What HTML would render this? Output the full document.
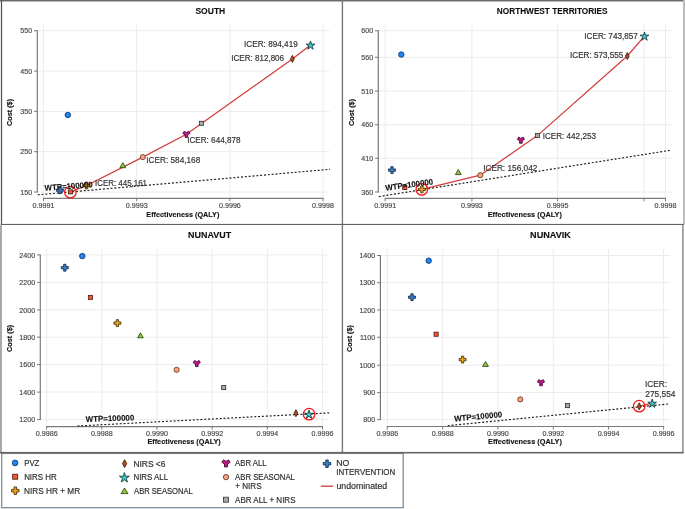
<!DOCTYPE html>
<html><head><meta charset="utf-8"><title>Cost-effectiveness planes</title>
<style>html,body{margin:0;padding:0;background:#fff;width:685px;height:509px;overflow:hidden;font-family:"Liberation Sans",sans-serif;}svg{display:block} text{filter:grayscale(1)} text.r{stroke:currentColor;stroke-width:0.18px} text.b{stroke:currentColor;stroke-width:0.12px}</style>
</head><body>
<svg width="685" height="509" viewBox="0 0 685 509" font-family='"Liberation Sans", sans-serif'>
<rect width="685" height="509" fill="#fff"/>
<line x1="43.5" y1="24.2" x2="43.5" y2="197.5" stroke="#ececec" stroke-width="1"/>
<line x1="136.7" y1="24.2" x2="136.7" y2="197.5" stroke="#ececec" stroke-width="1"/>
<line x1="229.9" y1="24.2" x2="229.9" y2="197.5" stroke="#ececec" stroke-width="1"/>
<line x1="323" y1="24.2" x2="323" y2="197.5" stroke="#ececec" stroke-width="1"/>
<line x1="37.3" y1="30.7" x2="329.6" y2="30.7" stroke="#ececec" stroke-width="1"/>
<line x1="37.3" y1="71.1" x2="329.6" y2="71.1" stroke="#ececec" stroke-width="1"/>
<line x1="37.3" y1="111.4" x2="329.6" y2="111.4" stroke="#ececec" stroke-width="1"/>
<line x1="37.3" y1="151.7" x2="329.6" y2="151.7" stroke="#ececec" stroke-width="1"/>
<line x1="37.3" y1="192" x2="329.6" y2="192" stroke="#ececec" stroke-width="1"/>
<line x1="37.3" y1="30.2" x2="37.3" y2="192.5" stroke="#7a7a7a" stroke-width="1.2"/>
<line x1="34" y1="30.7" x2="37.3" y2="30.7" stroke="#7a7a7a" stroke-width="1"/>
<text class="r" color="#4a4a4a" x="20.26" y="33.35" font-size="7.6" font-weight="normal" fill="#4a4a4a" textLength="11.92" lengthAdjust="spacingAndGlyphs">550</text>
<line x1="34" y1="71.1" x2="37.3" y2="71.1" stroke="#7a7a7a" stroke-width="1"/>
<text class="r" color="#4a4a4a" x="20.26" y="73.75" font-size="7.6" font-weight="normal" fill="#4a4a4a" textLength="11.92" lengthAdjust="spacingAndGlyphs">450</text>
<line x1="34" y1="111.4" x2="37.3" y2="111.4" stroke="#7a7a7a" stroke-width="1"/>
<text class="r" color="#4a4a4a" x="20.26" y="114.05" font-size="7.6" font-weight="normal" fill="#4a4a4a" textLength="11.92" lengthAdjust="spacingAndGlyphs">350</text>
<line x1="34" y1="151.7" x2="37.3" y2="151.7" stroke="#7a7a7a" stroke-width="1"/>
<text class="r" color="#4a4a4a" x="20.26" y="154.35" font-size="7.6" font-weight="normal" fill="#4a4a4a" textLength="11.92" lengthAdjust="spacingAndGlyphs">250</text>
<line x1="34" y1="192" x2="37.3" y2="192" stroke="#7a7a7a" stroke-width="1"/>
<text class="r" color="#4a4a4a" x="20.26" y="194.65" font-size="7.6" font-weight="normal" fill="#4a4a4a" textLength="11.92" lengthAdjust="spacingAndGlyphs">150</text>
<line x1="43" y1="198.3" x2="323.5" y2="198.3" stroke="#7a7a7a" stroke-width="1.2"/>
<line x1="43.5" y1="198.3" x2="43.5" y2="201.3" stroke="#7a7a7a" stroke-width="1"/>
<text class="r" color="#4a4a4a" x="32.61" y="208.2" font-size="7.6" font-weight="normal" fill="#4a4a4a" textLength="21.85" lengthAdjust="spacingAndGlyphs">0.9991</text>
<line x1="136.7" y1="198.3" x2="136.7" y2="201.3" stroke="#7a7a7a" stroke-width="1"/>
<text class="r" color="#4a4a4a" x="125.79" y="208.2" font-size="7.6" font-weight="normal" fill="#4a4a4a" textLength="21.85" lengthAdjust="spacingAndGlyphs">0.9993</text>
<line x1="229.9" y1="198.3" x2="229.9" y2="201.3" stroke="#7a7a7a" stroke-width="1"/>
<text class="r" color="#4a4a4a" x="218.99" y="208.2" font-size="7.6" font-weight="normal" fill="#4a4a4a" textLength="21.85" lengthAdjust="spacingAndGlyphs">0.9996</text>
<line x1="323" y1="198.3" x2="323" y2="201.3" stroke="#7a7a7a" stroke-width="1"/>
<text class="r" color="#4a4a4a" x="312.09" y="208.2" font-size="7.6" font-weight="normal" fill="#4a4a4a" textLength="21.85" lengthAdjust="spacingAndGlyphs">0.9998</text>
<text class="b" color="#111" x="195.44" y="14.2" font-size="8.6" font-weight="bold" fill="#111" textLength="29.83" lengthAdjust="spacingAndGlyphs">SOUTH</text>
<text class="b" color="#111" x="146.31" y="216.8" font-size="7.6" font-weight="bold" fill="#111" textLength="73.05" lengthAdjust="spacingAndGlyphs">Effectiveness (QALY)</text>
<text class="b" color="#111" x="-126.09" y="12.3" transform="rotate(-90)" font-size="7.6" font-weight="bold" fill="#111" textLength="27.15" lengthAdjust="spacingAndGlyphs">Cost ($)</text>
<line x1="37.7" y1="194.8" x2="330" y2="169.3" stroke="#1a1a1a" stroke-width="1.15" stroke-dasharray="2,1.85"/>
<path d="M70.4,192 L86.6,185.5 L142.8,157.1 L186.4,134.3 L292.4,58.9 L310.5,45.1" fill="none" stroke="#d33c3c" stroke-width="1.25" stroke-linejoin="round"/>
<circle cx="67.8" cy="115" r="2.75" fill="#1f87f3" stroke="#0f2f60" stroke-width="0.8"/>
<path d="M56.45,189.05 L58.75,189.05 L58.75,186.75 L61.05,186.75 L61.05,189.05 L63.35,189.05 L63.35,191.35 L61.05,191.35 L61.05,193.65 L58.75,193.65 L58.75,191.35 L56.45,191.35Z" fill="#3a7dc8" stroke="#0c1f3c" stroke-width="0.8"/>
<rect x="68.35" y="189.85" width="4.1" height="4.1" fill="#f2563b" stroke="#4a1408" stroke-width="0.8"/>
<path d="M83.15,184.35 L85.45,184.35 L85.45,182.05 L87.75,182.05 L87.75,184.35 L90.05,184.35 L90.05,186.65 L87.75,186.65 L87.75,188.95 L85.45,188.95 L85.45,186.65 L83.15,186.65Z" fill="#e8a417" stroke="#3a2600" stroke-width="0.8"/>
<path d="M122.8,162.7 L125.7,167.7 L119.9,167.7Z" fill="#8cc838" stroke="#223a05" stroke-width="0.8"/>
<circle cx="142.8" cy="157.1" r="2.6" fill="#f9a17a" stroke="#5a3020" stroke-width="0.8"/>
<path d="M187.7,134.78 L187.7,137.38 L185.1,137.38 L185.1,134.78 L182.85,133.48 L184.15,131.22 L186.4,132.52 L188.65,131.22 L189.95,133.48Z" fill="#c2188e" stroke="#360022" stroke-width="0.8"/>
<rect x="199.35" y="121.25" width="4.1" height="4.1" fill="#a9a9a9" stroke="#2e2e2e" stroke-width="0.8"/>
<path d="M292.4,55.4 L294.3,58.9 L292.4,62.4 L290.5,58.9Z" fill="#b4521c" stroke="#2e1000" stroke-width="0.8"/>
<path d="M310.5,40.94 L311.53,44.12 L314.87,44.12 L312.17,46.08 L313.2,49.26 L310.5,47.3 L307.8,49.26 L308.83,46.08 L306.13,44.12 L309.47,44.12Z" fill="#3bc5c8" stroke="#102a2b" stroke-width="0.8"/>
<circle cx="70.35" cy="192.2" r="5.75" fill="none" stroke="#ee1a1a" stroke-width="1.3"/>
<text class="r" color="#333" x="95.07" y="185.5" font-size="8.6" font-weight="normal" fill="#333" textLength="51.93" lengthAdjust="spacingAndGlyphs">ICER: 445,161</text>
<text class="r" color="#333" x="146.24" y="163.3" font-size="8.6" font-weight="normal" fill="#333" textLength="54.03" lengthAdjust="spacingAndGlyphs">ICER: 584,168</text>
<text class="r" color="#333" x="187.15" y="143.4" font-size="8.6" font-weight="normal" fill="#333" textLength="53.42" lengthAdjust="spacingAndGlyphs">ICER: 644,878</text>
<text class="r" color="#333" x="231.26" y="60.9" font-size="8.6" font-weight="normal" fill="#333" textLength="52.81" lengthAdjust="spacingAndGlyphs">ICER: 812,806</text>
<text class="r" color="#333" x="244.04" y="47" font-size="8.6" font-weight="normal" fill="#333" textLength="53.75" lengthAdjust="spacingAndGlyphs">ICER: 894,419</text>
<text class="b" color="#111" x="-0.02" y="0" transform="translate(44.8,190.7) rotate(-4.2)" font-size="8.1" font-weight="bold" fill="#111" textLength="48.16" lengthAdjust="spacingAndGlyphs">WTP=100000</text>
<line x1="385.2" y1="24.2" x2="385.2" y2="197.5" stroke="#ececec" stroke-width="1"/>
<line x1="471.9" y1="24.2" x2="471.9" y2="197.5" stroke="#ececec" stroke-width="1"/>
<line x1="557.6" y1="24.2" x2="557.6" y2="197.5" stroke="#ececec" stroke-width="1"/>
<line x1="644.1" y1="24.2" x2="644.1" y2="197.5" stroke="#ececec" stroke-width="1"/>
<line x1="665.5" y1="24.2" x2="665.5" y2="197.5" stroke="#ececec" stroke-width="1"/>
<line x1="378.3" y1="30.7" x2="672" y2="30.7" stroke="#ececec" stroke-width="1"/>
<line x1="378.3" y1="57.3" x2="672" y2="57.3" stroke="#ececec" stroke-width="1"/>
<line x1="378.3" y1="91.1" x2="672" y2="91.1" stroke="#ececec" stroke-width="1"/>
<line x1="378.3" y1="124.8" x2="672" y2="124.8" stroke="#ececec" stroke-width="1"/>
<line x1="378.3" y1="158.3" x2="672" y2="158.3" stroke="#ececec" stroke-width="1"/>
<line x1="378.3" y1="192" x2="672" y2="192" stroke="#ececec" stroke-width="1"/>
<line x1="378.3" y1="30.2" x2="378.3" y2="192.5" stroke="#7a7a7a" stroke-width="1.2"/>
<line x1="375" y1="30.7" x2="378.3" y2="30.7" stroke="#7a7a7a" stroke-width="1"/>
<text class="r" color="#4a4a4a" x="361.26" y="33.35" font-size="7.6" font-weight="normal" fill="#4a4a4a" textLength="11.92" lengthAdjust="spacingAndGlyphs">600</text>
<line x1="375" y1="57.3" x2="378.3" y2="57.3" stroke="#7a7a7a" stroke-width="1"/>
<text class="r" color="#4a4a4a" x="361.26" y="59.95" font-size="7.6" font-weight="normal" fill="#4a4a4a" textLength="11.92" lengthAdjust="spacingAndGlyphs">560</text>
<line x1="375" y1="91.1" x2="378.3" y2="91.1" stroke="#7a7a7a" stroke-width="1"/>
<text class="r" color="#4a4a4a" x="361.26" y="93.75" font-size="7.6" font-weight="normal" fill="#4a4a4a" textLength="11.92" lengthAdjust="spacingAndGlyphs">510</text>
<line x1="375" y1="124.8" x2="378.3" y2="124.8" stroke="#7a7a7a" stroke-width="1"/>
<text class="r" color="#4a4a4a" x="361.26" y="127.45" font-size="7.6" font-weight="normal" fill="#4a4a4a" textLength="11.92" lengthAdjust="spacingAndGlyphs">460</text>
<line x1="375" y1="158.3" x2="378.3" y2="158.3" stroke="#7a7a7a" stroke-width="1"/>
<text class="r" color="#4a4a4a" x="361.26" y="160.95" font-size="7.6" font-weight="normal" fill="#4a4a4a" textLength="11.92" lengthAdjust="spacingAndGlyphs">410</text>
<line x1="375" y1="192" x2="378.3" y2="192" stroke="#7a7a7a" stroke-width="1"/>
<text class="r" color="#4a4a4a" x="361.26" y="194.65" font-size="7.6" font-weight="normal" fill="#4a4a4a" textLength="11.92" lengthAdjust="spacingAndGlyphs">360</text>
<line x1="384.7" y1="198.3" x2="666" y2="198.3" stroke="#7a7a7a" stroke-width="1.2"/>
<line x1="385.2" y1="198.3" x2="385.2" y2="201.3" stroke="#7a7a7a" stroke-width="1"/>
<text class="r" color="#4a4a4a" x="374.31" y="208.2" font-size="7.6" font-weight="normal" fill="#4a4a4a" textLength="21.85" lengthAdjust="spacingAndGlyphs">0.9991</text>
<line x1="471.9" y1="198.3" x2="471.9" y2="201.3" stroke="#7a7a7a" stroke-width="1"/>
<text class="r" color="#4a4a4a" x="460.99" y="208.2" font-size="7.6" font-weight="normal" fill="#4a4a4a" textLength="21.85" lengthAdjust="spacingAndGlyphs">0.9993</text>
<line x1="557.6" y1="198.3" x2="557.6" y2="201.3" stroke="#7a7a7a" stroke-width="1"/>
<text class="r" color="#4a4a4a" x="546.68" y="208.2" font-size="7.6" font-weight="normal" fill="#4a4a4a" textLength="21.85" lengthAdjust="spacingAndGlyphs">0.9995</text>
<line x1="644.1" y1="198.3" x2="644.1" y2="201.3" stroke="#7a7a7a" stroke-width="1"/>
<line x1="665.5" y1="198.3" x2="665.5" y2="201.3" stroke="#7a7a7a" stroke-width="1"/>
<text class="r" color="#4a4a4a" x="654.59" y="208.2" font-size="7.6" font-weight="normal" fill="#4a4a4a" textLength="21.85" lengthAdjust="spacingAndGlyphs">0.9998</text>
<text class="b" color="#111" x="496.84" y="14.2" font-size="8.6" font-weight="bold" fill="#111" textLength="110.58" lengthAdjust="spacingAndGlyphs">NORTHWEST TERRITORIES</text>
<text class="b" color="#111" x="487.7" y="216.7" font-size="7.6" font-weight="bold" fill="#111" textLength="74.27" lengthAdjust="spacingAndGlyphs">Effectiveness (QALY)</text>
<text class="b" color="#111" x="-126.09" y="353.8" transform="rotate(-90)" font-size="7.6" font-weight="bold" fill="#111" textLength="27.15" lengthAdjust="spacingAndGlyphs">Cost ($)</text>
<line x1="378.8" y1="196.6" x2="670.9" y2="150.2" stroke="#1a1a1a" stroke-width="1.15" stroke-dasharray="2,1.85"/>
<path d="M421.9,189.4 L480.3,175.2 L537.4,135.6 L627.3,56 L644.5,36.1" fill="none" stroke="#d33c3c" stroke-width="1.25" stroke-linejoin="round"/>
<circle cx="401.3" cy="54.6" r="2.75" fill="#1f87f3" stroke="#0f2f60" stroke-width="0.8"/>
<path d="M388.55,168.95 L390.85,168.95 L390.85,166.65 L393.15,166.65 L393.15,168.95 L395.45,168.95 L395.45,171.25 L393.15,171.25 L393.15,173.55 L390.85,173.55 L390.85,171.25 L388.55,171.25Z" fill="#3a7dc8" stroke="#0c1f3c" stroke-width="0.8"/>
<rect x="402.75" y="185.55" width="4.1" height="4.1" fill="#f2563b" stroke="#4a1408" stroke-width="0.8"/>
<path d="M418.45,188.25 L420.75,188.25 L420.75,185.95 L423.05,185.95 L423.05,188.25 L425.35,188.25 L425.35,190.55 L423.05,190.55 L423.05,192.85 L420.75,192.85 L420.75,190.55 L418.45,190.55Z" fill="#e8a417" stroke="#3a2600" stroke-width="0.8"/>
<path d="M458.3,169.6 L461.2,174.6 L455.4,174.6Z" fill="#8cc838" stroke="#223a05" stroke-width="0.8"/>
<circle cx="480.3" cy="175.2" r="2.6" fill="#f9a17a" stroke="#5a3020" stroke-width="0.8"/>
<path d="M522.2,140.68 L522.2,143.28 L519.6,143.28 L519.6,140.68 L517.35,139.38 L518.65,137.12 L520.9,138.42 L523.15,137.12 L524.45,139.38Z" fill="#c2188e" stroke="#360022" stroke-width="0.8"/>
<rect x="535.35" y="133.55" width="4.1" height="4.1" fill="#a9a9a9" stroke="#2e2e2e" stroke-width="0.8"/>
<path d="M627.3,52.5 L629.2,56 L627.3,59.5 L625.4,56Z" fill="#b4521c" stroke="#2e1000" stroke-width="0.8"/>
<path d="M644.5,31.94 L645.53,35.12 L648.87,35.12 L646.17,37.08 L647.2,40.26 L644.5,38.3 L641.8,40.26 L642.83,37.08 L640.13,35.12 L643.47,35.12Z" fill="#3bc5c8" stroke="#102a2b" stroke-width="0.8"/>
<circle cx="421.8" cy="189.4" r="5.75" fill="none" stroke="#ee1a1a" stroke-width="1.3"/>
<text class="r" color="#333" x="483.14" y="171.4" font-size="8.6" font-weight="normal" fill="#333" textLength="54.2" lengthAdjust="spacingAndGlyphs">ICER: 156,042</text>
<text class="r" color="#333" x="542.65" y="138.7" font-size="8.6" font-weight="normal" fill="#333" textLength="53.32" lengthAdjust="spacingAndGlyphs">ICER: 442,253</text>
<text class="r" color="#333" x="570.05" y="57.8" font-size="8.6" font-weight="normal" fill="#333" textLength="53.09" lengthAdjust="spacingAndGlyphs">ICER: 573,555</text>
<text class="r" color="#333" x="584.35" y="38.7" font-size="8.6" font-weight="normal" fill="#333" textLength="53.48" lengthAdjust="spacingAndGlyphs">ICER: 743,857</text>
<text class="b" color="#111" x="-0.02" y="0" transform="translate(385.8,190.7) rotate(-7.6)" font-size="8.1" font-weight="bold" fill="#111" textLength="47.95" lengthAdjust="spacingAndGlyphs">WTP=100000</text>
<line x1="46.7" y1="248.8" x2="46.7" y2="425.8" stroke="#ececec" stroke-width="1"/>
<line x1="101.8" y1="248.8" x2="101.8" y2="425.8" stroke="#ececec" stroke-width="1"/>
<line x1="157" y1="248.8" x2="157" y2="425.8" stroke="#ececec" stroke-width="1"/>
<line x1="212.2" y1="248.8" x2="212.2" y2="425.8" stroke="#ececec" stroke-width="1"/>
<line x1="267.4" y1="248.8" x2="267.4" y2="425.8" stroke="#ececec" stroke-width="1"/>
<line x1="322.5" y1="248.8" x2="322.5" y2="425.8" stroke="#ececec" stroke-width="1"/>
<line x1="40.3" y1="254.9" x2="328.6" y2="254.9" stroke="#ececec" stroke-width="1"/>
<line x1="40.3" y1="282.4" x2="328.6" y2="282.4" stroke="#ececec" stroke-width="1"/>
<line x1="40.3" y1="309.9" x2="328.6" y2="309.9" stroke="#ececec" stroke-width="1"/>
<line x1="40.3" y1="337.2" x2="328.6" y2="337.2" stroke="#ececec" stroke-width="1"/>
<line x1="40.3" y1="364.6" x2="328.6" y2="364.6" stroke="#ececec" stroke-width="1"/>
<line x1="40.3" y1="392.1" x2="328.6" y2="392.1" stroke="#ececec" stroke-width="1"/>
<line x1="40.3" y1="419.6" x2="328.6" y2="419.6" stroke="#ececec" stroke-width="1"/>
<line x1="40.3" y1="254.4" x2="40.3" y2="420.1" stroke="#7a7a7a" stroke-width="1.2"/>
<line x1="37" y1="254.9" x2="40.3" y2="254.9" stroke="#7a7a7a" stroke-width="1"/>
<text class="r" color="#4a4a4a" x="19.29" y="257.55" font-size="7.6" font-weight="normal" fill="#4a4a4a" textLength="15.89" lengthAdjust="spacingAndGlyphs">2400</text>
<line x1="37" y1="282.4" x2="40.3" y2="282.4" stroke="#7a7a7a" stroke-width="1"/>
<text class="r" color="#4a4a4a" x="19.29" y="285.05" font-size="7.6" font-weight="normal" fill="#4a4a4a" textLength="15.89" lengthAdjust="spacingAndGlyphs">2200</text>
<line x1="37" y1="309.9" x2="40.3" y2="309.9" stroke="#7a7a7a" stroke-width="1"/>
<text class="r" color="#4a4a4a" x="19.29" y="312.55" font-size="7.6" font-weight="normal" fill="#4a4a4a" textLength="15.89" lengthAdjust="spacingAndGlyphs">2000</text>
<line x1="37" y1="337.2" x2="40.3" y2="337.2" stroke="#7a7a7a" stroke-width="1"/>
<text class="r" color="#4a4a4a" x="19.29" y="339.85" font-size="7.6" font-weight="normal" fill="#4a4a4a" textLength="15.89" lengthAdjust="spacingAndGlyphs">1800</text>
<line x1="37" y1="364.6" x2="40.3" y2="364.6" stroke="#7a7a7a" stroke-width="1"/>
<text class="r" color="#4a4a4a" x="19.29" y="367.25" font-size="7.6" font-weight="normal" fill="#4a4a4a" textLength="15.89" lengthAdjust="spacingAndGlyphs">1600</text>
<line x1="37" y1="392.1" x2="40.3" y2="392.1" stroke="#7a7a7a" stroke-width="1"/>
<text class="r" color="#4a4a4a" x="19.29" y="394.75" font-size="7.6" font-weight="normal" fill="#4a4a4a" textLength="15.89" lengthAdjust="spacingAndGlyphs">1400</text>
<line x1="37" y1="419.6" x2="40.3" y2="419.6" stroke="#7a7a7a" stroke-width="1"/>
<text class="r" color="#4a4a4a" x="19.29" y="422.25" font-size="7.6" font-weight="normal" fill="#4a4a4a" textLength="15.89" lengthAdjust="spacingAndGlyphs">1200</text>
<line x1="46.2" y1="426.6" x2="323" y2="426.6" stroke="#7a7a7a" stroke-width="1.2"/>
<line x1="46.7" y1="426.6" x2="46.7" y2="429.6" stroke="#7a7a7a" stroke-width="1"/>
<text class="r" color="#4a4a4a" x="35.79" y="435.5" font-size="7.6" font-weight="normal" fill="#4a4a4a" textLength="21.85" lengthAdjust="spacingAndGlyphs">0.9986</text>
<line x1="101.8" y1="426.6" x2="101.8" y2="429.6" stroke="#7a7a7a" stroke-width="1"/>
<text class="r" color="#4a4a4a" x="90.89" y="435.5" font-size="7.6" font-weight="normal" fill="#4a4a4a" textLength="21.85" lengthAdjust="spacingAndGlyphs">0.9988</text>
<line x1="157" y1="426.6" x2="157" y2="429.6" stroke="#7a7a7a" stroke-width="1"/>
<text class="r" color="#4a4a4a" x="146.07" y="435.5" font-size="7.6" font-weight="normal" fill="#4a4a4a" textLength="21.85" lengthAdjust="spacingAndGlyphs">0.9990</text>
<line x1="212.2" y1="426.6" x2="212.2" y2="429.6" stroke="#7a7a7a" stroke-width="1"/>
<text class="r" color="#4a4a4a" x="201.31" y="435.5" font-size="7.6" font-weight="normal" fill="#4a4a4a" textLength="21.85" lengthAdjust="spacingAndGlyphs">0.9992</text>
<line x1="267.4" y1="426.6" x2="267.4" y2="429.6" stroke="#7a7a7a" stroke-width="1"/>
<text class="r" color="#4a4a4a" x="256.43" y="435.5" font-size="7.6" font-weight="normal" fill="#4a4a4a" textLength="21.85" lengthAdjust="spacingAndGlyphs">0.9994</text>
<line x1="322.5" y1="426.6" x2="322.5" y2="429.6" stroke="#7a7a7a" stroke-width="1"/>
<text class="r" color="#4a4a4a" x="311.59" y="435.5" font-size="7.6" font-weight="normal" fill="#4a4a4a" textLength="21.85" lengthAdjust="spacingAndGlyphs">0.9996</text>
<text class="b" color="#111" x="188.1" y="238.1" font-size="8.6" font-weight="bold" fill="#111" textLength="43.01" lengthAdjust="spacingAndGlyphs">NUNAVUT</text>
<text class="b" color="#111" x="147.41" y="444" font-size="7.6" font-weight="bold" fill="#111" textLength="73.36" lengthAdjust="spacingAndGlyphs">Effectiveness (QALY)</text>
<text class="b" color="#111" x="-351.99" y="12.3" transform="rotate(-90)" font-size="7.6" font-weight="bold" fill="#111" textLength="27.15" lengthAdjust="spacingAndGlyphs">Cost ($)</text>
<line x1="77.4" y1="426" x2="329.2" y2="412.9" stroke="#1a1a1a" stroke-width="1.15" stroke-dasharray="2,1.85"/>
<circle cx="82.3" cy="256.1" r="2.75" fill="#1f87f3" stroke="#0f2f60" stroke-width="0.8"/>
<path d="M61.35,266.55 L63.65,266.55 L63.65,264.25 L65.95,264.25 L65.95,266.55 L68.25,266.55 L68.25,268.85 L65.95,268.85 L65.95,271.15 L63.65,271.15 L63.65,268.85 L61.35,268.85Z" fill="#3a7dc8" stroke="#0c1f3c" stroke-width="0.8"/>
<rect x="88.35" y="295.35" width="4.1" height="4.1" fill="#f2563b" stroke="#4a1408" stroke-width="0.8"/>
<path d="M113.95,321.95 L116.25,321.95 L116.25,319.65 L118.55,319.65 L118.55,321.95 L120.85,321.95 L120.85,324.25 L118.55,324.25 L118.55,326.55 L116.25,326.55 L116.25,324.25 L113.95,324.25Z" fill="#e8a417" stroke="#3a2600" stroke-width="0.8"/>
<path d="M140.4,332.8 L143.3,337.8 L137.5,337.8Z" fill="#8cc838" stroke="#223a05" stroke-width="0.8"/>
<circle cx="176.6" cy="369.8" r="2.6" fill="#f9a17a" stroke="#5a3020" stroke-width="0.8"/>
<path d="M198.1,363.98 L198.1,366.58 L195.5,366.58 L195.5,363.98 L193.25,362.68 L194.55,360.42 L196.8,361.72 L199.05,360.42 L200.35,362.68Z" fill="#c2188e" stroke="#360022" stroke-width="0.8"/>
<rect x="221.65" y="385.55" width="4.1" height="4.1" fill="#a9a9a9" stroke="#2e2e2e" stroke-width="0.8"/>
<path d="M295.9,409.7 L297.8,413.2 L295.9,416.7 L294,413.2Z" fill="#b4521c" stroke="#2e1000" stroke-width="0.8"/>
<path d="M309,410.04 L310.03,413.22 L313.37,413.22 L310.67,415.18 L311.7,418.36 L309,416.4 L306.3,418.36 L307.33,415.18 L304.63,413.22 L307.97,413.22Z" fill="#3bc5c8" stroke="#102a2b" stroke-width="0.8"/>
<circle cx="309.1" cy="414.2" r="5.75" fill="none" stroke="#ee1a1a" stroke-width="1.3"/>
<text class="b" color="#111" x="-0.02" y="0" transform="translate(85.8,421.9) rotate(-1.7)" font-size="8.1" font-weight="bold" fill="#111" textLength="48.56" lengthAdjust="spacingAndGlyphs">WTP=100000</text>
<line x1="387.3" y1="248.8" x2="387.3" y2="425.7" stroke="#ececec" stroke-width="1"/>
<line x1="442.7" y1="248.8" x2="442.7" y2="425.7" stroke="#ececec" stroke-width="1"/>
<line x1="497.9" y1="248.8" x2="497.9" y2="425.7" stroke="#ececec" stroke-width="1"/>
<line x1="553.3" y1="248.8" x2="553.3" y2="425.7" stroke="#ececec" stroke-width="1"/>
<line x1="608.6" y1="248.8" x2="608.6" y2="425.7" stroke="#ececec" stroke-width="1"/>
<line x1="663.6" y1="248.8" x2="663.6" y2="425.7" stroke="#ececec" stroke-width="1"/>
<line x1="380.4" y1="255.5" x2="670" y2="255.5" stroke="#ececec" stroke-width="1"/>
<line x1="380.4" y1="282.7" x2="670" y2="282.7" stroke="#ececec" stroke-width="1"/>
<line x1="380.4" y1="310" x2="670" y2="310" stroke="#ececec" stroke-width="1"/>
<line x1="380.4" y1="337.3" x2="670" y2="337.3" stroke="#ececec" stroke-width="1"/>
<line x1="380.4" y1="365.2" x2="670" y2="365.2" stroke="#ececec" stroke-width="1"/>
<line x1="380.4" y1="392.6" x2="670" y2="392.6" stroke="#ececec" stroke-width="1"/>
<line x1="380.4" y1="419.6" x2="670" y2="419.6" stroke="#ececec" stroke-width="1"/>
<line x1="380.4" y1="255" x2="380.4" y2="420.1" stroke="#7a7a7a" stroke-width="1.2"/>
<line x1="377.1" y1="255.5" x2="380.4" y2="255.5" stroke="#7a7a7a" stroke-width="1"/>
<text class="r" color="#4a4a4a" x="359.39" y="258.15" font-size="7.6" font-weight="normal" fill="#4a4a4a" textLength="15.89" lengthAdjust="spacingAndGlyphs">1400</text>
<line x1="377.1" y1="282.7" x2="380.4" y2="282.7" stroke="#7a7a7a" stroke-width="1"/>
<text class="r" color="#4a4a4a" x="359.39" y="285.35" font-size="7.6" font-weight="normal" fill="#4a4a4a" textLength="15.89" lengthAdjust="spacingAndGlyphs">1300</text>
<line x1="377.1" y1="310" x2="380.4" y2="310" stroke="#7a7a7a" stroke-width="1"/>
<text class="r" color="#4a4a4a" x="359.39" y="312.65" font-size="7.6" font-weight="normal" fill="#4a4a4a" textLength="15.89" lengthAdjust="spacingAndGlyphs">1200</text>
<line x1="377.1" y1="337.3" x2="380.4" y2="337.3" stroke="#7a7a7a" stroke-width="1"/>
<text class="r" color="#4a4a4a" x="359.91" y="339.95" font-size="7.6" font-weight="normal" fill="#4a4a4a" textLength="15.36" lengthAdjust="spacingAndGlyphs">1100</text>
<line x1="377.1" y1="365.2" x2="380.4" y2="365.2" stroke="#7a7a7a" stroke-width="1"/>
<text class="r" color="#4a4a4a" x="359.39" y="367.85" font-size="7.6" font-weight="normal" fill="#4a4a4a" textLength="15.89" lengthAdjust="spacingAndGlyphs">1000</text>
<line x1="377.1" y1="392.6" x2="380.4" y2="392.6" stroke="#7a7a7a" stroke-width="1"/>
<text class="r" color="#4a4a4a" x="363.36" y="395.25" font-size="7.6" font-weight="normal" fill="#4a4a4a" textLength="11.92" lengthAdjust="spacingAndGlyphs">900</text>
<line x1="377.1" y1="419.6" x2="380.4" y2="419.6" stroke="#7a7a7a" stroke-width="1"/>
<text class="r" color="#4a4a4a" x="363.36" y="422.25" font-size="7.6" font-weight="normal" fill="#4a4a4a" textLength="11.92" lengthAdjust="spacingAndGlyphs">800</text>
<line x1="386.8" y1="426.5" x2="664.1" y2="426.5" stroke="#7a7a7a" stroke-width="1.2"/>
<line x1="387.3" y1="426.5" x2="387.3" y2="429.5" stroke="#7a7a7a" stroke-width="1"/>
<text class="r" color="#4a4a4a" x="376.39" y="435.5" font-size="7.6" font-weight="normal" fill="#4a4a4a" textLength="21.85" lengthAdjust="spacingAndGlyphs">0.9986</text>
<line x1="442.7" y1="426.5" x2="442.7" y2="429.5" stroke="#7a7a7a" stroke-width="1"/>
<text class="r" color="#4a4a4a" x="431.79" y="435.5" font-size="7.6" font-weight="normal" fill="#4a4a4a" textLength="21.85" lengthAdjust="spacingAndGlyphs">0.9988</text>
<line x1="497.9" y1="426.5" x2="497.9" y2="429.5" stroke="#7a7a7a" stroke-width="1"/>
<text class="r" color="#4a4a4a" x="486.97" y="435.5" font-size="7.6" font-weight="normal" fill="#4a4a4a" textLength="21.85" lengthAdjust="spacingAndGlyphs">0.9990</text>
<line x1="553.3" y1="426.5" x2="553.3" y2="429.5" stroke="#7a7a7a" stroke-width="1"/>
<text class="r" color="#4a4a4a" x="542.41" y="435.5" font-size="7.6" font-weight="normal" fill="#4a4a4a" textLength="21.85" lengthAdjust="spacingAndGlyphs">0.9992</text>
<line x1="608.6" y1="426.5" x2="608.6" y2="429.5" stroke="#7a7a7a" stroke-width="1"/>
<text class="r" color="#4a4a4a" x="597.63" y="435.5" font-size="7.6" font-weight="normal" fill="#4a4a4a" textLength="21.85" lengthAdjust="spacingAndGlyphs">0.9994</text>
<line x1="663.6" y1="426.5" x2="663.6" y2="429.5" stroke="#7a7a7a" stroke-width="1"/>
<text class="r" color="#4a4a4a" x="652.69" y="435.5" font-size="7.6" font-weight="normal" fill="#4a4a4a" textLength="21.85" lengthAdjust="spacingAndGlyphs">0.9996</text>
<text class="b" color="#111" x="530.09" y="238.3" font-size="8.6" font-weight="bold" fill="#111" textLength="40.8" lengthAdjust="spacingAndGlyphs">NUNAVIK</text>
<text class="b" color="#111" x="488.01" y="444" font-size="7.6" font-weight="bold" fill="#111" textLength="73.86" lengthAdjust="spacingAndGlyphs">Effectiveness (QALY)</text>
<text class="b" color="#111" x="-351.99" y="352.1" transform="rotate(-90)" font-size="7.6" font-weight="bold" fill="#111" textLength="26.95" lengthAdjust="spacingAndGlyphs">Cost ($)</text>
<line x1="447.7" y1="425.7" x2="668.5" y2="404" stroke="#1a1a1a" stroke-width="1.15" stroke-dasharray="2,1.85"/>
<path d="M639.2,406.3 L652.2,403.2" fill="none" stroke="#d33c3c" stroke-width="1.25" stroke-linejoin="round"/>
<circle cx="428.7" cy="260.7" r="2.75" fill="#1f87f3" stroke="#0f2f60" stroke-width="0.8"/>
<path d="M408.55,296.05 L410.85,296.05 L410.85,293.75 L413.15,293.75 L413.15,296.05 L415.45,296.05 L415.45,298.35 L413.15,298.35 L413.15,300.65 L410.85,300.65 L410.85,298.35 L408.55,298.35Z" fill="#3a7dc8" stroke="#0c1f3c" stroke-width="0.8"/>
<rect x="434.05" y="332.15" width="4.1" height="4.1" fill="#f2563b" stroke="#4a1408" stroke-width="0.8"/>
<path d="M459.15,358.45 L461.45,358.45 L461.45,356.15 L463.75,356.15 L463.75,358.45 L466.05,358.45 L466.05,360.75 L463.75,360.75 L463.75,363.05 L461.45,363.05 L461.45,360.75 L459.15,360.75Z" fill="#e8a417" stroke="#3a2600" stroke-width="0.8"/>
<path d="M485.5,361.4 L488.4,366.4 L482.6,366.4Z" fill="#8cc838" stroke="#223a05" stroke-width="0.8"/>
<circle cx="520.3" cy="399.4" r="2.6" fill="#f9a17a" stroke="#5a3020" stroke-width="0.8"/>
<path d="M542.3,383.18 L542.3,385.78 L539.7,385.78 L539.7,383.18 L537.45,381.88 L538.75,379.62 L541,380.92 L543.25,379.62 L544.55,381.88Z" fill="#c2188e" stroke="#360022" stroke-width="0.8"/>
<rect x="565.45" y="403.55" width="4.1" height="4.1" fill="#a9a9a9" stroke="#2e2e2e" stroke-width="0.8"/>
<path d="M639.2,402.8 L641.1,406.3 L639.2,409.8 L637.3,406.3Z" fill="#b4521c" stroke="#2e1000" stroke-width="0.8"/>
<path d="M652.2,399.04 L653.23,402.22 L656.57,402.22 L653.87,404.18 L654.9,407.36 L652.2,405.4 L649.5,407.36 L650.53,404.18 L647.83,402.22 L651.17,402.22Z" fill="#3bc5c8" stroke="#102a2b" stroke-width="0.8"/>
<circle cx="639.2" cy="406.2" r="5.75" fill="none" stroke="#ee1a1a" stroke-width="1.3"/>
<text class="r" color="#333" x="644.94" y="386.7" font-size="8.6" font-weight="normal" fill="#333" textLength="22" lengthAdjust="spacingAndGlyphs">ICER:</text>
<text class="r" color="#333" x="645.28" y="397.3" font-size="8.6" font-weight="normal" fill="#333" textLength="30.17" lengthAdjust="spacingAndGlyphs">275,554</text>
<text class="b" color="#111" x="-0.02" y="0" transform="translate(454.4,421.4) rotate(-5.0)" font-size="8.1" font-weight="bold" fill="#111" textLength="48.12" lengthAdjust="spacingAndGlyphs">WTP=100000</text>
<rect x="1.7" y="453.4" width="401.5" height="54.3" fill="#fff" stroke="#7d8d98" stroke-width="1.3"/>
<circle cx="15.1" cy="462.9" r="2.85" fill="#1f87f3" stroke="#0f2f60" stroke-width="0.8"/>
<rect x="12.7" y="474.2" width="5.0" height="5.0" fill="#f2563b" stroke="#4a1408" stroke-width="0.8"/>
<path d="M11.55,489.45 L14.05,489.45 L14.05,486.95 L16.55,486.95 L16.55,489.45 L19.05,489.45 L19.05,491.95 L16.55,491.95 L16.55,494.45 L14.05,494.45 L14.05,491.95 L11.55,491.95Z" fill="#e8a417" stroke="#3a2600" stroke-width="0.8"/>
<path d="M124.6,459.7 L126.75,463.6 L124.6,467.5 L122.45,463.6Z" fill="#b4521c" stroke="#2e1000" stroke-width="0.8"/>
<path d="M124.4,472.6 L125.57,476.19 L129.35,476.19 L126.29,478.41 L127.46,482 L124.4,479.78 L121.34,482 L122.51,478.41 L119.45,476.19 L123.23,476.19Z" fill="#3bc5c8" stroke="#102a2b" stroke-width="0.8"/>
<path d="M124.5,488 L128,493.6 L121,493.6Z" fill="#8cc838" stroke="#223a05" stroke-width="0.8"/>
<path d="M227.5,463.95 L227.5,466.95 L224.5,466.95 L224.5,463.95 L221.9,462.45 L223.4,459.85 L226,461.35 L228.6,459.85 L230.1,462.45Z" fill="#c2188e" stroke="#360022" stroke-width="0.8"/>
<circle cx="226" cy="477.1" r="2.7" fill="#f9a17a" stroke="#5a3020" stroke-width="0.8"/>
<rect x="223.4" y="497.2" width="5.0" height="5.0" fill="#a9a9a9" stroke="#2e2e2e" stroke-width="0.8"/>
<path d="M323.25,462.45 L325.75,462.45 L325.75,459.95 L328.25,459.95 L328.25,462.45 L330.75,462.45 L330.75,464.95 L328.25,464.95 L328.25,467.45 L325.75,467.45 L325.75,464.95 L323.25,464.95Z" fill="#3a7dc8" stroke="#0c1f3c" stroke-width="0.8"/>
<text class="r" color="#2e2e2e" x="24.15" y="465.9" font-size="8.6" font-weight="normal" fill="#2e2e2e" textLength="15.28" lengthAdjust="spacingAndGlyphs">PVZ</text>
<text class="r" color="#2e2e2e" x="24.14" y="479.8" font-size="8.6" font-weight="normal" fill="#2e2e2e" textLength="32.73" lengthAdjust="spacingAndGlyphs">NIRS HR</text>
<text class="r" color="#2e2e2e" x="24.12" y="493.8" font-size="8.6" font-weight="normal" fill="#2e2e2e" textLength="56.06" lengthAdjust="spacingAndGlyphs">NIRS HR + MR</text>
<text class="r" color="#2e2e2e" x="133.41" y="466.6" font-size="8.6" font-weight="normal" fill="#2e2e2e" textLength="32.07" lengthAdjust="spacingAndGlyphs">NIRS &lt;6</text>
<text class="r" color="#2e2e2e" x="133.45" y="480.4" font-size="8.6" font-weight="normal" fill="#2e2e2e" textLength="34.62" lengthAdjust="spacingAndGlyphs">NIRS ALL</text>
<text class="r" color="#2e2e2e" x="134.08" y="494.4" font-size="8.6" font-weight="normal" fill="#2e2e2e" textLength="58.67" lengthAdjust="spacingAndGlyphs">ABR SEASONAL</text>
<text class="r" color="#2e2e2e" x="235.08" y="466.2" font-size="8.6" font-weight="normal" fill="#2e2e2e" textLength="31.48" lengthAdjust="spacingAndGlyphs">ABR ALL</text>
<text class="r" color="#2e2e2e" x="235.08" y="480.2" font-size="8.6" font-weight="normal" fill="#2e2e2e" textLength="59.77" lengthAdjust="spacingAndGlyphs">ABR SEASONAL</text>
<text class="r" color="#2e2e2e" x="235.19" y="488.8" font-size="8.6" font-weight="normal" fill="#2e2e2e" textLength="26.38" lengthAdjust="spacingAndGlyphs">+ NIRS</text>
<text class="r" color="#2e2e2e" x="235.08" y="502.5" font-size="8.6" font-weight="normal" fill="#2e2e2e" textLength="60.4" lengthAdjust="spacingAndGlyphs">ABR ALL + NIRS</text>
<text class="r" color="#2e2e2e" x="336.28" y="466.2" font-size="8.6" font-weight="normal" fill="#2e2e2e" textLength="13.03" lengthAdjust="spacingAndGlyphs">NO</text>
<text class="r" color="#2e2e2e" x="336.27" y="474.9" font-size="8.6" font-weight="normal" fill="#2e2e2e" textLength="58.99" lengthAdjust="spacingAndGlyphs">INTERVENTION</text>
<text class="r" color="#2e2e2e" x="336.43" y="488.7" font-size="8.6" font-weight="normal" fill="#2e2e2e" textLength="50.82" lengthAdjust="spacingAndGlyphs">undominated</text>
<line x1="320.8" y1="486.2" x2="333.1" y2="486.2" stroke="#d33c3c" stroke-width="1.3"/>
<rect x="0" y="0" width="685" height="1.5" fill="#6e6e6e"/>
<rect x="0.9" y="0" width="1.2" height="224.5" fill="#4e4e4e"/>
<rect x="683" y="0" width="2" height="224.5" fill="#bdbdbd"/>
<rect x="0" y="224.5" width="2" height="228" fill="#a9a9a9"/>
<rect x="682" y="224.5" width="1.7" height="228.5" fill="#999"/>
<rect x="341.7" y="0" width="1.4" height="453" fill="#7a7a7a"/>
<rect x="1" y="223.9" width="682.8" height="1.1" fill="#626262"/>
<rect x="0" y="451.9" width="683.7" height="1.6" fill="#666"/>
</svg>
</body></html>
